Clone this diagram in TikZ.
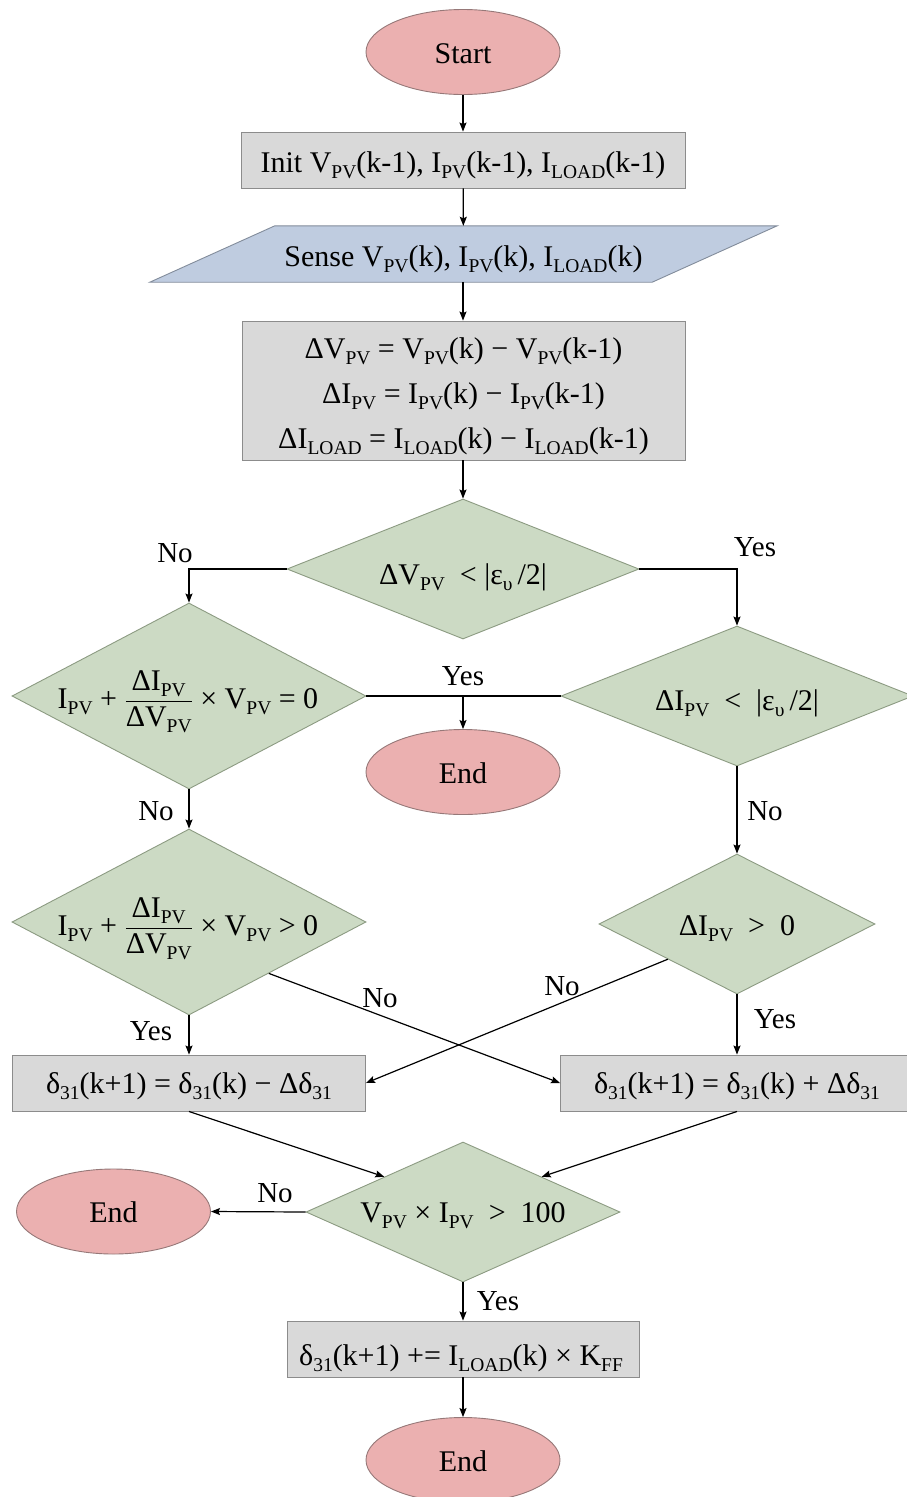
\documentclass[tikz,border=0pt]{standalone}
\usepackage{amsmath}
\usepackage{fontspec}
\setmainfont{Liberation Serif}
\usetikzlibrary{shapes.geometric,arrows.meta,calc}

\definecolor{termfill}{RGB}{235,176,176}
\definecolor{termline}{RGB}{150,120,120}
\definecolor{procfill}{RGB}{217,217,217}
\definecolor{procline}{RGB}{140,140,140}
\definecolor{iofill}{RGB}{191,204,224}
\definecolor{ioline}{RGB}{130,140,155}
\definecolor{decfill}{RGB}{204,218,196}
\definecolor{decline}{RGB}{140,155,130}

% lowered subscript in text
\newcommand\sbs[1]{\raisebox{-6.5pt}{\fontsize{19.5}{20}\selectfont #1}}
% stacked fraction with a visible bar
\newcommand\fr[2]{$\genfrac{}{}{1.3pt}{0}{\mbox{#1}}{\mbox{#2}}$}

\begin{document}
\begin{tikzpicture}[x=1pt,y=-1pt,
  every node/.style={font=\fontsize{30}{36}\selectfont},
  term/.style={ellipse, draw=termline, fill=termfill, line width=0.9pt,
    minimum width=194pt, minimum height=85pt, inner sep=0pt},
  proc/.style={rectangle, draw=procline, fill=procfill, line width=0.9pt,
    inner sep=0pt, minimum height=56pt},
  dec/.style={diamond, draw=decline, fill=decfill, line width=0.9pt,
    inner sep=0pt},
  txt/.style={anchor=base, inner sep=0pt},
  lbl/.style={anchor=base, inner sep=0pt, font=\fontsize{29}{30}\selectfont},
  flow/.style={line width=1.2pt, -{Stealth[length=9pt,width=7pt,inset=1.5pt]}},
  link/.style={line width=1.2pt}]

\fill[white] (0,0) rectangle (907,1497);
\useasboundingbox (0,0) rectangle (907,1497);

% ---- shapes ----
\node[term] (start) at (463,52) {};
\node[proc, minimum width=444pt] (init) at (463,160) {};
\node[inner sep=0pt, minimum width=627pt, minimum height=56pt] (sense) at (463.5,254) {};
\draw[ioline, fill=iofill, line width=0.9pt]
  (sense.south west) -- ($(sense.north west)+(125,0)$) -- (sense.north east)
  -- ($(sense.south east)-(125,0)$) -- cycle;
\node[proc, minimum width=443pt, minimum height=139pt] (calc) at (463.5,390.5) {};
\node[dec, minimum width=352pt, minimum height=140pt] (d1) at (463,569) {};
\node[dec, minimum width=354pt, minimum height=186pt] (d2) at (189,696) {};
\node[dec, minimum width=352pt, minimum height=140pt] (d3) at (737,696) {};
\node[term] (e1) at (463,772) {};
\node[dec, minimum width=354pt, minimum height=186pt] (d4) at (189,922) {};
\node[dec, minimum width=276pt, minimum height=140pt] (d5) at (737,924) {};
\node[proc, minimum width=353pt] (boxl) at (189,1083) {};
\node[proc, minimum width=353pt] (boxr) at (737,1083) {};
\node[dec, minimum width=314pt, minimum height=140pt] (d6) at (463,1212) {};
\node[term] (e2) at (113.5,1211.5) {};
\node[proc, minimum width=352pt] (boxf) at (463,1349) {};
\node[term] (e3) at (463,1460) {};

% ---- texts ----
\node[txt] (startt) at (463,63) {Start};
\node[txt] (initt) at (463,172) {Init V\sbs{PV}(k-1), I\sbs{PV}(k-1), I\sbs{LOAD}(k-1)};
\node[txt] (senset) at (463.5,266) {Sense V\sbs{PV}(k), I\sbs{PV}(k), I\sbs{LOAD}(k)};
\node[txt] (calca) at (463.5,358) {ΔV\sbs{PV} = V\sbs{PV}(k) − V\sbs{PV}(k-1)};
\node[txt] (calcb) at (463.5,403) {ΔI\sbs{PV} = I\sbs{PV}(k) − I\sbs{PV}(k-1)};
\node[txt] (calcc) at (463.5,448) {ΔI\sbs{LOAD} = I\sbs{LOAD}(k) − I\sbs{LOAD}(k-1)};
\node[txt] (d1t) at (463,584) {ΔV\sbs{PV}\ \ < |ε\sbs{υ}\,/2|};
\node[txt] (d2t) at (188,708) {I\sbs{PV} + \fr{ΔI\sbs{PV}}{ΔV\sbs{PV}} × V\sbs{PV} = 0};
\node[txt] (d3t) at (737,710) {ΔI\sbs{PV}\ \ <\ \ |ε\sbs{υ}\,/2|};
\node[txt] (e1t) at (463,783) {End};
\node[txt] (d4t) at (188,935) {I\sbs{PV} + \fr{ΔI\sbs{PV}}{ΔV\sbs{PV}} × V\sbs{PV} > 0};
\node[txt] (d5t) at (737,935) {ΔI\sbs{PV}\ \ >\ \ 0};
\node[txt] (boxlt) at (189,1093) {δ\sbs{31}(k+1) = δ\sbs{31}(k) − Δδ\sbs{31}};
\node[txt] (boxrt) at (737,1093) {δ\sbs{31}(k+1) = δ\sbs{31}(k) + Δδ\sbs{31}};
\node[txt] (d6t) at (463,1222) {V\sbs{PV} × I\sbs{PV}\ \ >\ \ 100};
\node[txt] (e2t) at (113.5,1222) {End};
\node[txt] (boxft) at (461,1365) {δ\sbs{31}(k+1) += I\sbs{LOAD}(k) × K\sbs{FF}};
\node[txt] (e3t) at (463,1471) {End};

% ---- connectors ----
\draw[flow] (start) -- (init);
\draw[flow] (init) -- (sense);
\draw[flow] (sense.south -| init.south) -- (calc.north -| init.south);
\draw[flow] (calc.south -| d1.north) -- (d1.north);
\draw[flow] (d1.west) -| (d2.north);
\draw[flow] (d1.east) -| (d3.north);
\draw[link] (d2.east) -- (d3.west);
\draw[flow] (d2.east -| e1.north) -- (e1.north);
\draw[flow] (d2.south) -- (d4.north);
\draw[flow] (d3.south) -- (d5.north);
\draw[flow] (d4.south) -- (boxl.north);
\draw[flow] (d5.south) -- (boxr.north);
\draw[flow] ($(d4.east)!0.55!(d4.south)$) -- (boxr.west);
\draw[flow] ($(d5.west)!0.5!(d5.south)$) -- (boxl.east);
\draw[flow] (boxl.south) -- ($(d6.west)!0.5!(d6.north)$);
\draw[flow] (boxr.south) -- ($(d6.north)!0.5!(d6.east)$);
\draw[flow] (d6.west) -- (e2.east);
\draw[flow] (d6.south) -- (boxf.north);
\draw[flow] (boxf.south) -- (e3.north);

% ---- branch labels ----
\node[lbl] (l1) at (175,562) {No};
\node[lbl] (l2) at (755,556) {Yes};
\node[lbl] (l3) at (463,685) {Yes};
\node[lbl] (l4) at (156,820) {No};
\node[lbl] (l5) at (765,820) {No};
\node[lbl] (l6) at (151,1040) {Yes};
\node[lbl] (l7) at (775,1028) {Yes};
\node[lbl] (l8) at (380,1007) {No};
\node[lbl] (l9) at (562,995) {No};
\node[lbl] (l10) at (275,1202) {No};
\node[lbl] (l11) at (498,1310) {Yes};
\end{tikzpicture}
\end{document}
